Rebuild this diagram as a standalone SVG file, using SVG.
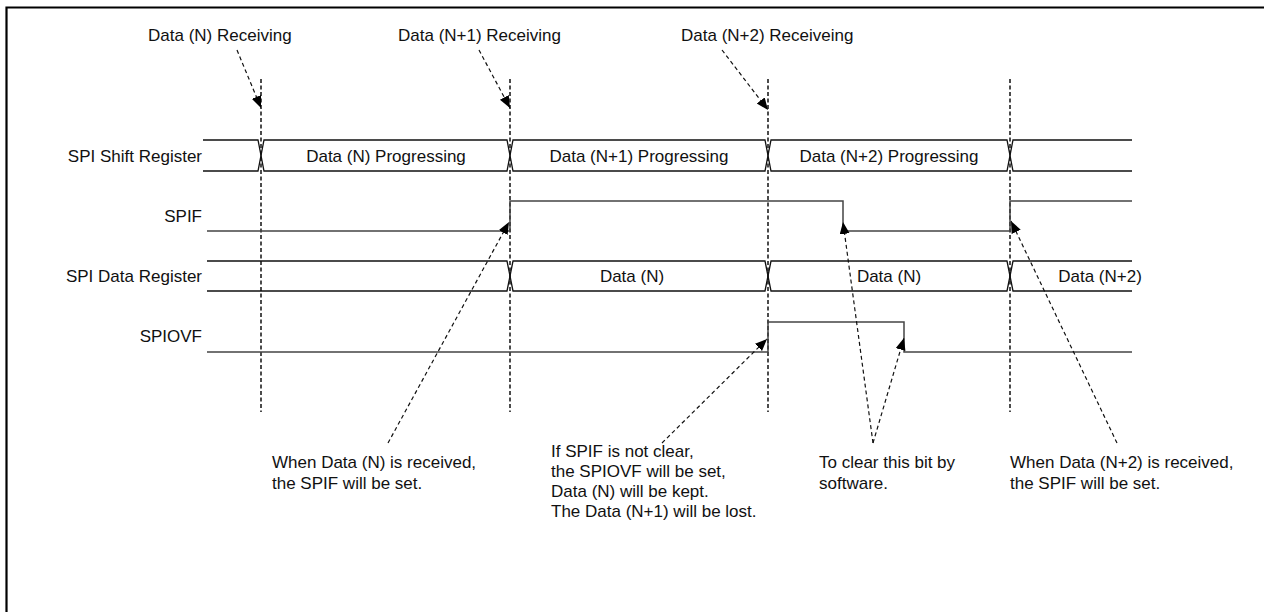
<svg xmlns="http://www.w3.org/2000/svg" width="1264" height="612" viewBox="0 0 1264 612">
<defs>
<style>
text{font-family:"Liberation Sans",Arial,sans-serif;font-size:17px;fill:#111}
.lbl{text-anchor:end}
.mid{text-anchor:middle}
.bus{fill:none;stroke:#111;stroke-width:1.3}
.sig{fill:none;stroke:#444;stroke-width:1.5}
.grid{stroke:#111;stroke-width:1.5;stroke-dasharray:4 2.5}
.ann{fill:none;stroke:#111;stroke-width:1.2;stroke-dasharray:4 3}
</style>
<marker id="ah" markerUnits="userSpaceOnUse" markerWidth="14" markerHeight="12" refX="12" refY="5" orient="auto">
<path d="M0,0 L12,5 L0,10 z" fill="#000"/>
</marker>
</defs>
<rect width="1264" height="612" fill="#fff"/>
<g id="frame" stroke="#000" stroke-width="2.2" fill="none">
<path d="M6.5,612 V7.5 H1264"/>
</g>
<g id="timing-grid">
<line class="grid" x1="261" y1="79" x2="261" y2="412"/>
<line class="grid" x1="510" y1="79" x2="510" y2="412"/>
<line class="grid" x1="768" y1="79" x2="768" y2="412"/>
<line class="grid" x1="1010" y1="79" x2="1010" y2="412"/>
</g>
<g id="shift-register">
<text class="lbl" x="202" y="162">SPI Shift Register</text>
<path class="bus" d="M203,140 H258 L264,171 H507 L513,140 H765 L771,171 H1007 L1013,140 H1132"/>
<path class="bus" d="M203,171 H258 L264,140 H507 L513,171 H765 L771,140 H1007 L1013,171 H1132"/>
<text class="mid" x="386" y="162">Data (N) Progressing</text>
<text class="mid" x="639" y="162">Data (N+1) Progressing</text>
<text class="mid" x="889" y="162">Data (N+2) Progressing</text>
</g>
<g id="spif">
<text class="lbl" x="202" y="222">SPIF</text>
<path class="sig" d="M207,231 H510 V201 H843 V231 H1010 V201 H1132"/>
</g>
<g id="data-register">
<text class="lbl" x="202" y="282">SPI Data Register</text>
<path class="bus" d="M207,261 H507 L513,291 H765 L771,261 H1007 L1013,291 H1132"/>
<path class="bus" d="M207,291 H507 L513,261 H765 L771,291 H1007 L1013,261 H1132"/>
<text class="mid" x="632" y="282">Data (N)</text>
<text class="mid" x="889" y="282">Data (N)</text>
<text class="mid" x="1100" y="282">Data (N+2)</text>
</g>
<g id="spiovf">
<text class="lbl" x="202" y="342">SPIOVF</text>
<path class="sig" d="M207,352 H768 V322 H904 V352 H1132"/>
</g>
<g id="top-labels">
<text x="148" y="41">Data (N) Receiving</text>
<text x="398" y="41">Data (N+1) Receiving</text>
<text x="681" y="41">Data (N+2) Receiveing</text>
</g>
<g id="notes">
<text x="272" y="468">When Data (N) is received,<tspan x="272" y="489">the SPIF will be set.</tspan></text>
<text x="551" y="457">If SPIF is not clear,<tspan x="551" y="477">the SPIOVF will be set,</tspan><tspan x="551" y="497">Data (N) will be kept.</tspan><tspan x="551" y="517">The Data (N+1) will be lost.</tspan></text>
<text x="819" y="468">To clear this bit by<tspan x="819" y="489">software.</tspan></text>
<text x="1010" y="468">When Data (N+2) is received,<tspan x="1010" y="489">the SPIF will be set.</tspan></text>
</g>
<g id="connectors">
<line class="ann" x1="237" y1="50" x2="261" y2="108" marker-end="url(#ah)"/>
<line class="ann" x1="479" y1="50" x2="510" y2="108" marker-end="url(#ah)"/>
<line class="ann" x1="722" y1="50" x2="768" y2="110" marker-end="url(#ah)"/>
<line class="ann" x1="388" y1="443" x2="509" y2="222" marker-end="url(#ah)"/>
<line class="ann" x1="662" y1="443" x2="767" y2="339" marker-end="url(#ah)"/>
<line class="ann" x1="873" y1="443" x2="843" y2="222" marker-end="url(#ah)"/>
<line class="ann" x1="873" y1="443" x2="904" y2="338" marker-end="url(#ah)"/>
<line class="ann" x1="1117" y1="443" x2="1011" y2="221" marker-end="url(#ah)"/>
</g>
</svg>
